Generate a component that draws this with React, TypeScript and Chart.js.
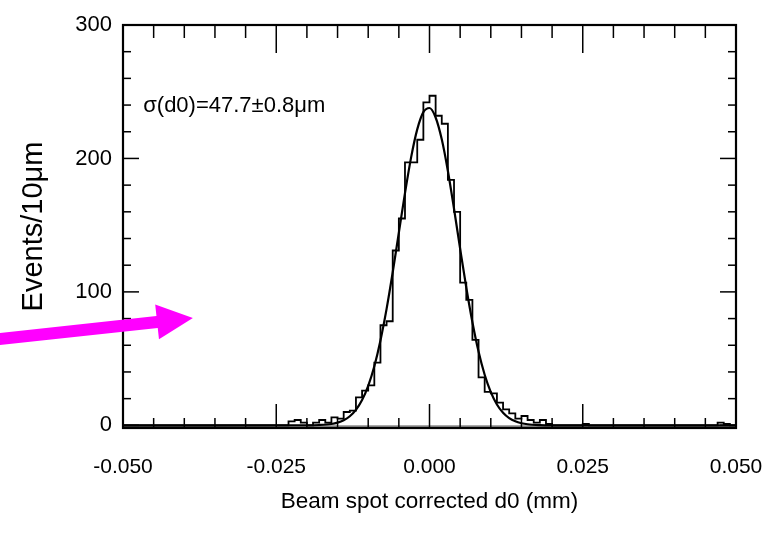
import { useEffect, useRef } from "react";
import { Chart, registerables } from "chart.js";

Chart.register(...registerables);

// ---- data ----
const BIN_START = -0.05; // mm
const BIN_WIDTH = 0.001; // mm (10 µm)
// events per 10 µm bin, from -0.050 mm to +0.050 mm (100 bins)
const COUNTS = [
  0, 0, 0, 0, 0, 0, 0, 0, 0, 0,
  0, 0, 0, 0, 0, 0, 0, 0, 0, 0,
  0, 0, 0, 0, 0, 0, 0, 3, 4, 2,
  0, 2, 4, 2, 6, 5, 10, 11, 21, 26,
  30, 47, 75, 78, 131, 155, 197, 197, 214, 242,
  247, 232, 226, 184, 160, 107, 94, 64, 36, 25,
  24, 17, 12, 9, 5, 7, 4, 2, 4, 1,
  0, 0, 0, 0, 0, 1, 0, 0, 0, 0,
  0, 0, 0, 0, 0, 0, 0, 0, 0, 0,
  0, 0, 0, 0, 0, 0, 0, 2, 1, 0,
];

// Gaussian fit curve
const FIT_X = [
  -0.05, -0.02, -0.018, -0.016, -0.015, -0.014, -0.013, -0.012, -0.011, -0.01,
  -0.009, -0.008, -0.007, -0.006, -0.005, -0.004, -0.003, -0.002, -0.001, 0,
  0.001, 0.002, 0.003, 0.004, 0.005, 0.006, 0.007, 0.008, 0.009, 0.01,
  0.011, 0.012, 0.013, 0.014, 0.015, 0.016, 0.018, 0.02, 0.05,
];
const FIT_Y = [
  0, 0.05, 0.25, 1.0, 2.0, 3.8, 6.8, 11.6, 18.9, 29.6,
  44.3, 63.6, 87.3, 114.7, 144.4, 174.0, 200.8, 221.8, 234.7, 237.8,
  230.7, 214.3, 190.6, 162.3, 132.3, 103.3, 77.3, 55.3, 37.9, 24.9,
  15.6, 9.4, 5.4, 3.0, 1.6, 0.8, 0.2, 0.04, 0,
];

const X_TICKS = [-0.05, -0.025, 0, 0.025, 0.05];
const Y_TICKS = [0, 100, 200, 300];
const X_MINOR_STEP = 0.005;
const Y_MINOR_STEP = 20;

const X_TITLE = "Beam spot corrected d0 (mm)";
const Y_TITLE = "Events/10\u03bcm";
const ANNOTATION = "\u03c3(d0)=47.7\u00b10.8\u03bcm";
const ANNOT_POS = { x: -0.0467, y: 239 };
const ARROW_TAIL = { x: -0.0709, y: 64.3 };
const ARROW_TIP = { x: -0.0386, y: 80.4 };

const SANS = "'Liberation Sans', Arial, Helvetica, sans-serif";

const framePlugin = {
  id: "rootFrame",
  beforeDatasetsDraw(chart: any) {
    const { ctx, chartArea: a, scales } = chart;
    const y0 = scales.y.getPixelForValue(-0.8);
    ctx.save();
    ctx.strokeStyle = "#8c8c8c";
    ctx.lineWidth = 2.5;
    ctx.beginPath();
    ctx.moveTo(a.left, y0);
    ctx.lineTo(a.right, y0);
    ctx.stroke();
    ctx.restore();
  },
  afterDatasetsDraw(chart: any) {
    const { ctx, chartArea: a, scales } = chart;
    const xs = scales.x;
    const ys = scales.y;
    ctx.save();
    ctx.strokeStyle = "#000";
    ctx.lineWidth = 1.5;
    const seg = (x1: number, y1: number, x2: number, y2: number) => {
      ctx.beginPath();
      ctx.moveTo(x1, y1);
      ctx.lineTo(x2, y2);
      ctx.stroke();
    };
    const nx = Math.round((xs.max - xs.min) / X_MINOR_STEP);
    for (let i = 0; i <= nx; i++) {
      const v = xs.min + i * X_MINOR_STEP;
      const px = xs.getPixelForValue(v);
      const major = X_TICKS.some((t) => Math.abs(t - v) < 1e-9);
      seg(px, a.bottom, px, a.bottom - (major ? 24 : 10));
      seg(px, a.top, px, a.top + (major ? 28 : 13));
    }
    for (let v = 0; v <= 300; v += Y_MINOR_STEP) {
      const py = ys.getPixelForValue(v);
      const major = Y_TICKS.includes(v);
      seg(a.left, py, a.left + (major ? 16 : 8), py);
      seg(a.right, py, a.right - (major ? 16 : 8), py);
    }
    ctx.lineWidth = 2.2;
    ctx.strokeRect(a.left, a.top, a.right - a.left, a.bottom - a.top);

    // annotation text
    ctx.fillStyle = "#000";
    ctx.font = `22px ${SANS}`;
    ctx.textAlign = "left";
    ctx.textBaseline = "middle";
    ctx.fillText(ANNOTATION, xs.getPixelForValue(ANNOT_POS.x), ys.getPixelForValue(ANNOT_POS.y));
    ctx.restore();
  },
  afterDraw(chart: any) {
    const { ctx, scales } = chart;
    const tx = scales.x.getPixelForValue(ARROW_TAIL.x);
    const ty = scales.y.getPixelForValue(ARROW_TAIL.y);
    const hx = scales.x.getPixelForValue(ARROW_TIP.x);
    const hy = scales.y.getPixelForValue(ARROW_TIP.y);
    const len = Math.hypot(hx - tx, hy - ty);
    const dx = (hx - tx) / len;
    const dy = (hy - ty) / len;
    const nx = -dy;
    const ny = dx;
    const headLen = 36;
    const headHalf = 17.5;
    const shaftHalf = 6;
    const bx = hx - dx * headLen;
    const by = hy - dy * headLen;
    ctx.save();
    ctx.fillStyle = "#ff00ff";
    ctx.beginPath();
    ctx.moveTo(tx + nx * shaftHalf, ty + ny * shaftHalf);
    ctx.lineTo(bx + nx * shaftHalf, by + ny * shaftHalf);
    ctx.lineTo(bx + nx * headHalf, by + ny * headHalf);
    ctx.lineTo(hx, hy);
    ctx.lineTo(bx - nx * headHalf, by - ny * headHalf);
    ctx.lineTo(bx - nx * shaftHalf, by - ny * shaftHalf);
    ctx.lineTo(tx - nx * shaftHalf, ty - ny * shaftHalf);
    ctx.closePath();
    ctx.fill();
    ctx.restore();
  },
};

export default function App() {
  const ref = useRef<HTMLCanvasElement>(null);

  useEffect(() => {
    const canvas = ref.current;
    if (!canvas) return;
    const histData = COUNTS.map((c, i) => ({ x: BIN_START + i * BIN_WIDTH, y: c }));
    histData.push({ x: BIN_START + COUNTS.length * BIN_WIDTH, y: COUNTS[COUNTS.length - 1] });
    const fitData = FIT_X.map((x, i) => ({ x, y: FIT_Y[i] }));

    const chart = new Chart(canvas, {
      type: "line",
      data: {
        datasets: [
          {
            data: histData,
            stepped: true,
            borderColor: "#000",
            borderWidth: 1.8,
            pointRadius: 0,
            fill: false,
          },
          {
            data: fitData,
            borderColor: "#000",
            borderWidth: 2.2,
            pointRadius: 0,
            cubicInterpolationMode: "monotone",
            fill: false,
          },
        ],
      } as any,
      options: {
        responsive: false,
        animation: false,
        devicePixelRatio: 1,
        layout: { padding: { left: 0, right: 40, top: 25, bottom: 0 } },
        plugins: { legend: { display: false }, tooltip: { enabled: false } },
        scales: {
          x: {
            type: "linear",
            min: -0.05,
            max: 0.05,
            afterBuildTicks: (s: any) => {
              s.ticks = X_TICKS.map((v) => ({ value: v }));
            },
            afterFit: (s: any) => {
              s.height = 105;
              s.paddingLeft = 0;
              s.paddingRight = 0;
            },
            grid: { display: false, drawTicks: false },
            border: { display: false },
            ticks: {
              padding: 27,
              color: "#000",
              font: { family: SANS, size: 21 },
              maxRotation: 0,
              autoSkip: false,
              callback: (v: any) => Number(v).toFixed(3),
            },
            title: {
              display: true,
              text: X_TITLE,
              color: "#000",
              font: { family: SANS, size: 22.5 },
              padding: { top: 0, bottom: 18 },
            },
          },
          y: {
            type: "linear",
            min: -2,
            max: 300,
            afterBuildTicks: (s: any) => {
              s.ticks = Y_TICKS.map((v) => ({ value: v }));
            },
            afterFit: (s: any) => {
              s.width = 123;
              s.paddingTop = 0;
              s.paddingBottom = 0;
            },
            grid: { display: false, drawTicks: false },
            border: { display: false },
            ticks: {
              padding: 11,
              color: "#000",
              font: { family: SANS, size: 22 },
              autoSkip: false,
              callback: (v: any) => String(v),
            },
            title: {
              display: true,
              text: Y_TITLE,
              color: "#000",
              font: { family: SANS, size: 29 },
              padding: { top: 17, bottom: 0 },
            },
          },
        },
      } as any,
      plugins: [framePlugin],
    });
    return () => chart.destroy();
  }, []);

  return (
    <div style={{ position: "fixed", left: 0, top: 0, width: 776, height: 533, background: "#fff" }}>
      <canvas ref={ref} width={776} height={533} style={{ display: "block" }} />
    </div>
  );
}
